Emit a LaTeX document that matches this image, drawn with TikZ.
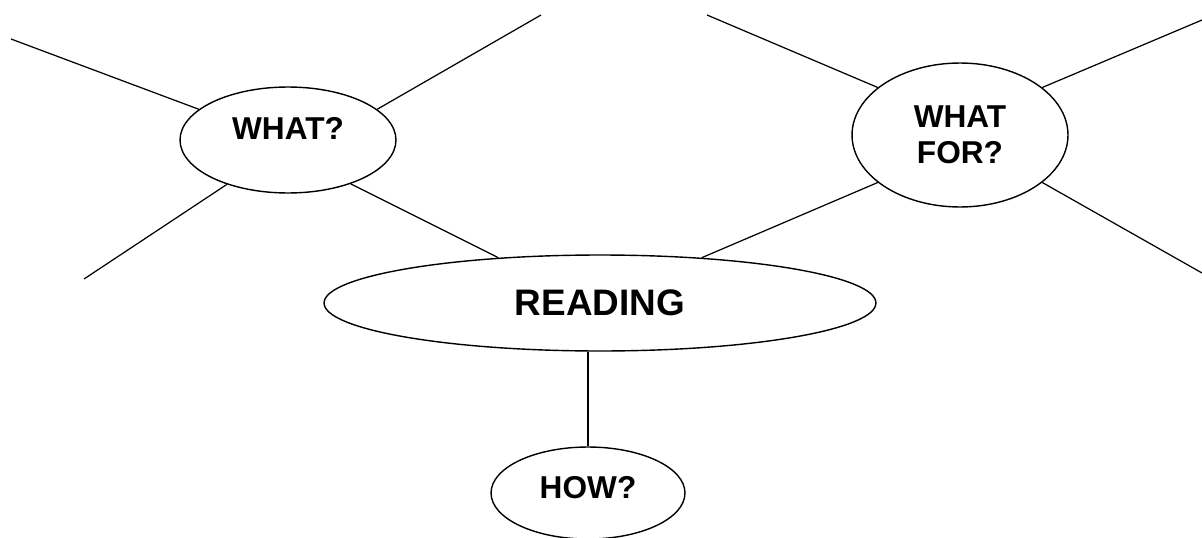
\documentclass[tikz,border=0pt]{standalone}
\usepackage{fontspec}
\setmainfont{Liberation Sans}
\usetikzlibrary{shapes.geometric}
\tikzset{
   bubble/.style = {ellipse, draw, line width=0.8pt, inner sep=0pt, align=center,
                    font=\fontsize{18pt}{20.5pt}\selectfont\bfseries},
   spoke/.style  = {line width=0.7pt}
}

\begin{document}
\begin{tikzpicture}[x=0.02cm, y=-0.02cm]
   \useasboundingbox (0,0) rectangle (1202,537);

   % bubbles
   \node[bubble, minimum width=4.32cm, minimum height=2.12cm,
         text height=13pt, text depth=14pt] (what) at (288,140) {WHAT?};
   \node[bubble, minimum width=4.32cm, minimum height=2.88cm] (whatfor) at (960,135) {WHAT\\FOR?};
   \node[bubble, minimum width=11.04cm, minimum height=1.92cm,
         font=\fontsize{21pt}{24pt}\selectfont\bfseries] (reading) at (600,303) {READING};
   \node[bubble, minimum width=3.88cm, minimum height=1.84cm,
         text depth=6pt] (how) at (588,493) {HOW?};

   % loose ends of the spokes
   \coordinate (whatNW) at (11,39);
   \coordinate (whatNE) at (541,15);
   \coordinate (whatSW) at (84,279);
   \coordinate (forNW)  at (707,15);
   \coordinate (forNE)  at (1202,20);
   \coordinate (forSE)  at (1202,273);

   \draw[spoke] (what.161) -- (whatNW);
   \draw[spoke] (what.19) -- (whatNE);
   \draw[spoke] (what.216) -- (whatSW);
   \draw[spoke] (what.325) -- (reading.156);

   \draw[spoke] (whatfor.150) -- (forNW);
   \draw[spoke] (whatfor.30) -- (forNE);
   \draw[spoke] (whatfor.330) -- (forSE);
   \draw[spoke] (whatfor.210) -- (reading.24);

   \draw[spoke] (reading.south -| how.north) -- (how.north);
\end{tikzpicture}
\end{document}
